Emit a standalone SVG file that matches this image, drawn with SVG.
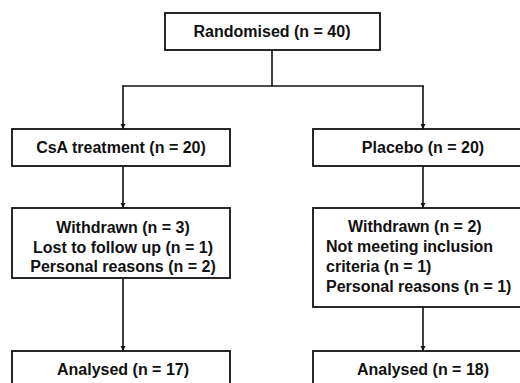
<svg xmlns="http://www.w3.org/2000/svg" width="520" height="383" viewBox="0 0 520 383">
<defs>
<marker id="ah" viewBox="0 0 10 10" refX="10" refY="5" markerWidth="5" markerHeight="7" markerUnits="userSpaceOnUse" orient="auto">
<path d="M0,0 L10,5 L0,10 z" fill="#111"/>
</marker>
</defs>
<style>
.box{fill:#fff;stroke:#111;stroke-width:1.8}
.t{font-family:"Liberation Sans",Arial,sans-serif;font-weight:bold;font-size:16px;fill:#111}
.c{text-anchor:middle}
.ln{fill:none;stroke:#111;stroke-width:1.6}
</style>
<rect width="520" height="383" fill="#fff"/>
<g id="connectors">
<line class="ln" x1="272" y1="50" x2="272" y2="86"/>
<line class="ln" x1="122" y1="86" x2="424" y2="86"/>
<line class="ln" x1="123" y1="86" x2="123" y2="129" marker-end="url(#ah)"/>
<line class="ln" x1="423" y1="86" x2="423" y2="129" marker-end="url(#ah)"/>
<line class="ln" x1="123" y1="166" x2="123" y2="208" marker-end="url(#ah)"/>
<line class="ln" x1="423" y1="166" x2="423" y2="208" marker-end="url(#ah)"/>
<line class="ln" x1="123" y1="278" x2="123" y2="351" marker-end="url(#ah)"/>
<line class="ln" x1="423" y1="307" x2="423" y2="351" marker-end="url(#ah)"/>
</g>
<g id="randomised">
<rect class="box" x="165" y="13" width="215" height="37"/>
<text class="t c" x="272" y="37">Randomised (n = 40)</text>
</g>
<g id="csa">
<rect class="box" x="12" y="129" width="218" height="37"/>
<text class="t c" x="121" y="153">CsA treatment (n = 20)</text>
</g>
<g id="placebo">
<rect class="box" x="313" y="129" width="220" height="37"/>
<text class="t c" x="423" y="153">Placebo (n = 20)</text>
</g>
<g id="withdrawn-csa">
<rect class="box" x="12" y="208" width="218" height="70"/>
<text class="t c" x="123" y="233">Withdrawn (n = 3)</text>
<text class="t c" x="123" y="253">Lost to follow up (n = 1)</text>
<text class="t c" x="123" y="272">Personal reasons (n = 2)</text>
</g>
<g id="withdrawn-placebo">
<rect class="box" x="313" y="208" width="220" height="99"/>
<text class="t" x="348" y="232">Withdrawn (n = 2)</text>
<text class="t" x="326" y="252">Not meeting inclusion</text>
<text class="t" x="326" y="272">criteria (n = 1)</text>
<text class="t" x="326" y="292">Personal reasons (n = 1)</text>
</g>
<g id="analysed-csa">
<rect class="box" x="12" y="351" width="218" height="45"/>
<text class="t c" x="123" y="375">Analysed (n = 17)</text>
</g>
<g id="analysed-placebo">
<rect class="box" x="313" y="351" width="220" height="45"/>
<text class="t c" x="423" y="375">Analysed (n = 18)</text>
</g>
</svg>
